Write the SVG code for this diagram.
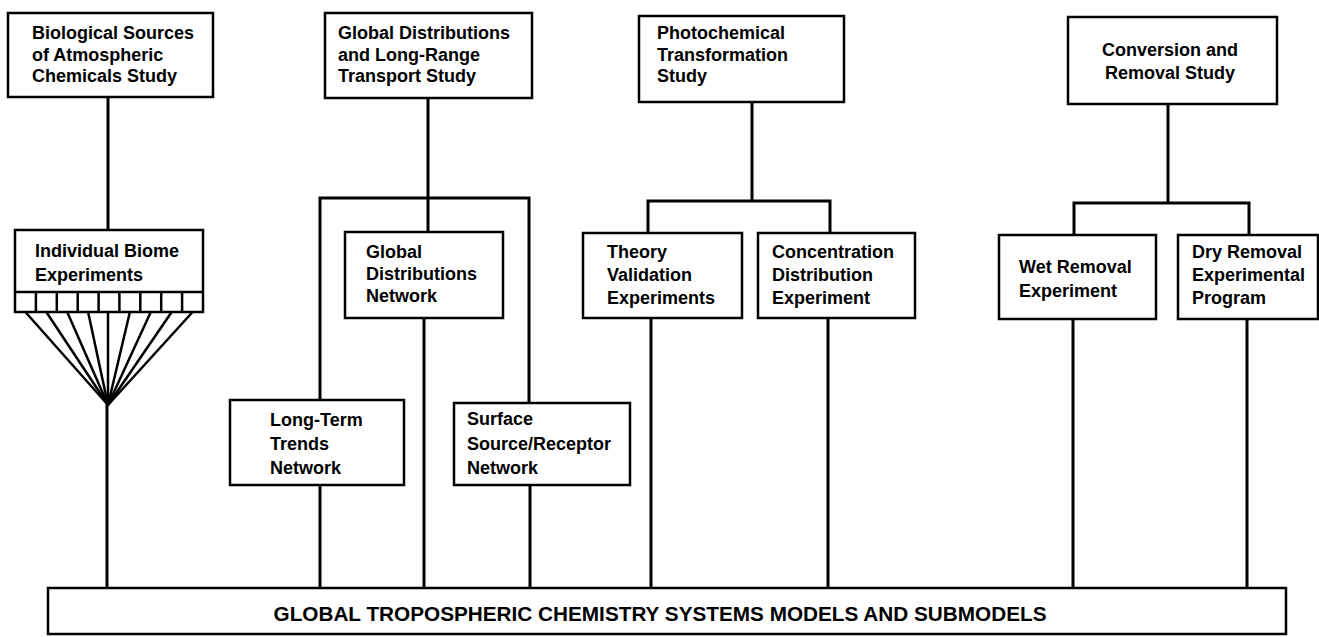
<svg xmlns="http://www.w3.org/2000/svg" width="1319" height="637" viewBox="0 0 1319 637">
<style>
.box{fill:#fff;stroke:#000;stroke-width:2.5}
.t{font-family:"Liberation Sans",Arial,sans-serif;font-weight:bold;font-size:18px;fill:#000}
.c{stroke:#000;stroke-width:3;fill:none;stroke-linecap:square}
.f{stroke:#000;stroke-width:2.5;fill:none}
</style>
<rect width="1319" height="637" fill="#fff"/>
<g id="connectors">
<path class="c" d="M108 97V230"/>
<path class="c" d="M428 98V232M320 400V198H529V403M424 318V587"/>
<path class="c" d="M752 102V201M648 233V201H830V233"/>
<path class="c" d="M1168 104V203M1074 235V203H1249V235"/>
<g class="f">
<line x1="25.4" y1="312" x2="108" y2="405"/>
<line x1="46.3" y1="312" x2="108" y2="405"/>
<line x1="67.2" y1="312" x2="108" y2="405"/>
<line x1="88.1" y1="312" x2="108" y2="405"/>
<line x1="108" y1="312" x2="108" y2="405"/>
<line x1="129.9" y1="312" x2="108" y2="405"/>
<line x1="150.8" y1="312" x2="108" y2="405"/>
<line x1="171.7" y1="312" x2="108" y2="405"/>
<line x1="192.6" y1="312" x2="108" y2="405"/>
</g>
<path class="c" d="M107 405V587M320 485V587M530 485V587M651 318V587M828 318V587M1073 319V587M1247 319V587"/>
</g>
<g id="n-bio">
<rect class="box" x="8" y="13" width="205" height="84"/>
<text class="t" x="32" y="39">Biological Sources</text>
<text class="t" x="32" y="60.5">of Atmospheric</text>
<text class="t" x="32" y="82">Chemicals Study</text>
</g>
<g id="n-global">
<rect class="box" x="325" y="13" width="207" height="85"/>
<text class="t" x="338" y="39">Global Distributions</text>
<text class="t" x="338" y="60.5">and Long-Range</text>
<text class="t" x="338" y="82">Transport Study</text>
</g>
<g id="n-photo">
<rect class="box" x="639" y="16" width="205" height="86"/>
<text class="t" x="657" y="39">Photochemical</text>
<text class="t" x="657" y="60.5">Transformation</text>
<text class="t" x="657" y="82">Study</text>
</g>
<g id="n-conv">
<rect class="box" x="1068" y="17" width="209" height="87"/>
<text class="t" x="1170" y="56" text-anchor="middle">Conversion and</text>
<text class="t" x="1170" y="79" text-anchor="middle">Removal Study</text>
</g>
<g id="n-biome">
<rect class="box" x="15" y="230" width="188" height="82"/>
<path class="f" d="M15 292H203M35.9 292V312M56.8 292V312M77.7 292V312M98.6 292V312M119.4 292V312M140.3 292V312M161.2 292V312M182.1 292V312"/>
<text class="t" x="35" y="257">Individual Biome</text>
<text class="t" x="35" y="281">Experiments</text>
</g>
<g id="n-gdn">
<rect class="box" x="345" y="232" width="158" height="86"/>
<text class="t" x="366" y="258">Global</text>
<text class="t" x="366" y="280">Distributions</text>
<text class="t" x="366" y="302">Network</text>
</g>
<g id="n-theory">
<rect class="box" x="583" y="233" width="159" height="85"/>
<text class="t" x="607" y="258">Theory</text>
<text class="t" x="607" y="281">Validation</text>
<text class="t" x="607" y="304">Experiments</text>
</g>
<g id="n-conc">
<rect class="box" x="758" y="233" width="157" height="85"/>
<text class="t" x="772" y="258">Concentration</text>
<text class="t" x="772" y="281">Distribution</text>
<text class="t" x="772" y="304">Experiment</text>
</g>
<g id="n-wet">
<rect class="box" x="999" y="235" width="157" height="84"/>
<text class="t" x="1019" y="273">Wet Removal</text>
<text class="t" x="1019" y="297">Experiment</text>
</g>
<g id="n-dry">
<rect class="box" x="1178" y="235" width="140" height="84"/>
<text class="t" x="1192" y="258">Dry Removal</text>
<text class="t" x="1192" y="281">Experimental</text>
<text class="t" x="1192" y="304">Program</text>
</g>
<g id="n-longterm">
<rect class="box" x="230" y="400" width="174" height="85"/>
<text class="t" x="270" y="426">Long-Term</text>
<text class="t" x="270" y="450">Trends</text>
<text class="t" x="270" y="474">Network</text>
</g>
<g id="n-surface">
<rect class="box" x="454" y="403" width="176" height="82"/>
<text class="t" x="467" y="425">Surface</text>
<text class="t" x="467" y="450">Source/Receptor</text>
<text class="t" x="467" y="474">Network</text>
</g>
<g id="n-models">
<rect class="box" x="48" y="588" width="1238" height="46"/>
<text class="t" x="660" y="621" text-anchor="middle" style="font-size:20px" textLength="773" lengthAdjust="spacingAndGlyphs">GLOBAL TROPOSPHERIC CHEMISTRY SYSTEMS MODELS AND SUBMODELS</text>
</g>
</svg>
